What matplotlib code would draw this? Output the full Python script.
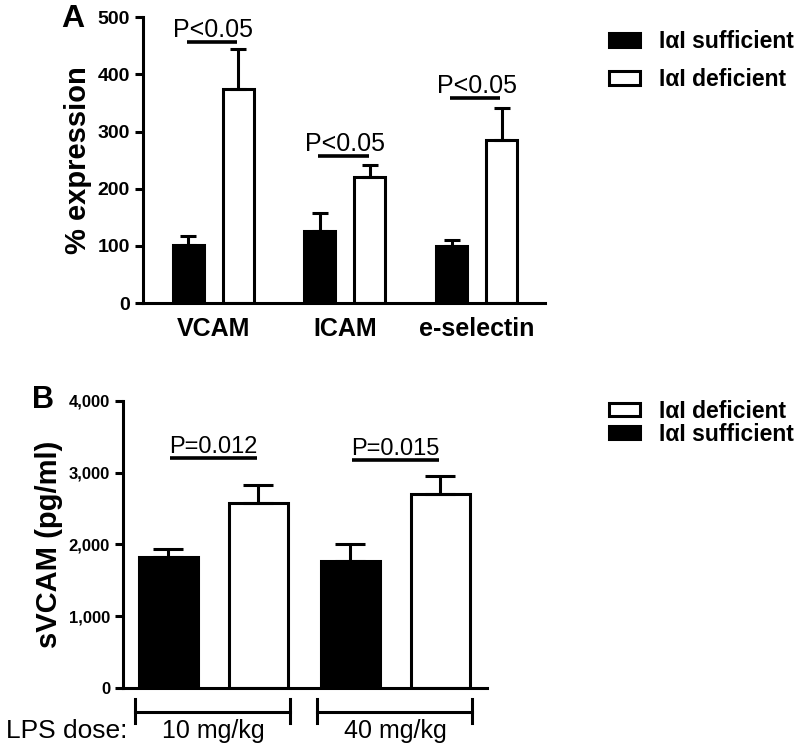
import numpy as np
import matplotlib
matplotlib.use("Agg")
import matplotlib.pyplot as plt
from matplotlib.patches import Patch

plt.rcParams['font.family'] = ['Liberation Sans', 'DejaVu Sans']

# panel A data
a_markers = ['VCAM', 'ICAM', 'e-selectin']
a_suff = [101, 126, 100]
a_suff_err = [16, 31, 11]
a_def = [374, 220, 286]
a_def_err = [70, 21, 55]
a_sig_y = [456, 257, 359]
a_sig_txt = ['P<0.05', 'P<0.05', 'P<0.05']

# panel B data
b_doses = ['10 mg/kg', '40 mg/kg']
b_suff = [1825, 1769]
b_suff_err = [111, 236]
b_def = [2577, 2702]
b_def_err = [250, 251]
b_sig_y = [3203, 3175]
b_sig_txt = ['P=0.012', 'P=0.015']

lw = 2.2
fig = plt.figure(figsize=(8, 7.52), dpi=100)


def style_axes(ax, tsize):
    for s in ['top', 'right']:
        ax.spines[s].set_visible(False)
    for s in ['left', 'bottom']:
        ax.spines[s].set_linewidth(lw)
    ax.tick_params(axis='y', width=lw, length=6, labelsize=tsize)
    ax.tick_params(axis='x', length=0)
    for lab in ax.get_yticklabels():
        lab.set_fontweight('bold')


# ---- panel A
axA = fig.add_axes([0.179, 0.597, 0.5025, 0.380])
x = np.arange(len(a_markers))
off, w = 0.19, 0.235
axA.bar(x - off, a_suff, w, color='black', edgecolor='black', linewidth=lw)
axA.bar(x + off, a_def, w, color='white', edgecolor='black', linewidth=lw)
axA.errorbar(x - off, a_suff, yerr=[np.zeros(3), a_suff_err], fmt='none',
             ecolor='black', elinewidth=lw, capsize=6, capthick=lw)
axA.errorbar(x + off, a_def, yerr=[np.zeros(3), a_def_err], fmt='none',
             ecolor='black', elinewidth=lw, capsize=6, capthick=lw)
for i, (yy, t) in enumerate(zip(a_sig_y, a_sig_txt)):
    axA.plot([i - 0.2, i + 0.18], [yy, yy], color='black', lw=2.6, solid_capstyle='butt')
    axA.text(i, yy + 9, t, ha='center', va='baseline', fontsize=18)
axA.set_ylim(0, 500)
axA.set_xlim(-0.53, 2.52)
axA.set_yticks([0, 100, 200, 300, 400, 500])
axA.set_xticks(x)
axA.set_xticklabels(a_markers, fontsize=18, fontweight='bold')
axA.tick_params(axis='x', pad=10)
axA.set_ylabel('% expression', fontsize=21, fontweight='bold', labelpad=4)
style_axes(axA, 14)
fig.text(0.077, 0.975, 'A', fontsize=23, fontweight='bold', va='center')

hA = [Patch(facecolor='black', edgecolor='black', linewidth=lw, label='I\u03b1I sufficient'),
      Patch(facecolor='white', edgecolor='black', linewidth=lw, label='I\u03b1I deficient')]
fig.legend(handles=hA, loc='upper left', bbox_to_anchor=(0.736, 0.987), frameon=False,
           prop={'weight': 'bold', 'size': 16.5}, handlelength=1.35, handleheight=0.55,
           labelspacing=0.65, handletextpad=0.8)

# ---- panel B
axB = fig.add_axes([0.154, 0.085, 0.455, 0.382])
xb = np.arange(len(b_doses))
offb, wb = 0.247, 0.324
axB.bar(xb - offb, b_suff, wb, color='black', edgecolor='black', linewidth=lw)
axB.bar(xb + offb, b_def, wb, color='white', edgecolor='black', linewidth=lw)
axB.errorbar(xb - offb, b_suff, yerr=[np.zeros(2), b_suff_err], fmt='none',
             ecolor='black', elinewidth=lw, capsize=11, capthick=lw)
axB.errorbar(xb + offb, b_def, yerr=[np.zeros(2), b_def_err], fmt='none',
             ecolor='black', elinewidth=lw, capsize=11, capthick=lw)
for i, (yy, t) in enumerate(zip(b_sig_y, b_sig_txt)):
    axB.plot([i - 0.24, i + 0.24], [yy, yy], color='black', lw=2.6, solid_capstyle='butt')
    axB.text(i, yy + 70, t, ha='center', va='baseline', fontsize=17)
axB.set_ylim(0, 4000)
axB.set_xlim(-0.495, 1.505)
axB.set_yticks([0, 1000, 2000, 3000, 4000])
axB.set_yticklabels(['0', '1,000', '2,000', '3,000', '4,000'])
axB.set_xticks([])
axB.set_ylabel('sVCAM (pg/ml)', fontsize=21, fontweight='bold', labelpad=4)
style_axes(axB, 12)
fig.text(0.04, 0.468, 'B', fontsize=22, fontweight='bold', va='center')

tr = axB.get_xaxis_transform()
for i, d in enumerate(b_doses):
    axB.plot([i - 0.43, i + 0.42], [-0.0836, -0.0836], color='black', lw=lw,
             transform=tr, clip_on=False)
    for xx in (i - 0.43, i + 0.42):
        axB.plot([xx, xx], [-0.038, -0.122], color='black', lw=lw,
                 transform=tr, clip_on=False)
    axB.text(i, -0.15, d, ha='center', va='center', fontsize=18, transform=tr)
fig.text(0.159, 0.028, 'LPS dose:', ha='right', va='center', fontsize=19)

hB = [Patch(facecolor='white', edgecolor='black', linewidth=lw, label='I\u03b1I deficient'),
      Patch(facecolor='black', edgecolor='black', linewidth=lw, label='I\u03b1I sufficient')]
fig.legend(handles=hB, loc='upper left', bbox_to_anchor=(0.736, 0.496), frameon=False,
           prop={'weight': 'bold', 'size': 16.5}, handlelength=1.35, handleheight=0.55,
           labelspacing=0.0, handletextpad=0.8)

fig.savefig('out.png', dpi=100, facecolor='white')
